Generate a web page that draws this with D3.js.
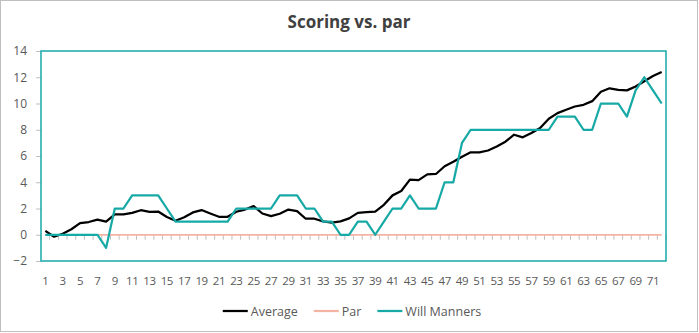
<!DOCTYPE html>
<html>
<head>
<meta charset="utf-8">
<script src="https://cdn.jsdelivr.net/npm/d3@7"></script>
<style>
  html, body { margin: 0; padding: 0; background: #fff; }
  svg { display: block; font-family: "Open Sans", "Noto Sans", sans-serif; }
</style>
</head>
<body>
<svg id="chart" width="699" height="333"></svg>
<script>
// Round numbers 1..72
const rounds = d3.range(1, 73);

// Running average vs. par per round
const averageScores = [
  0.3, -0.15, 0.08, 0.42, 0.88, 0.97, 1.15, 1.0, 1.55, 1.55,
  1.67, 1.87, 1.74, 1.77, 1.35, 1.07, 1.33, 1.7, 1.88, 1.62,
  1.37, 1.37, 1.75, 1.92, 2.18, 1.62, 1.42, 1.6, 1.92, 1.8,
  1.22, 1.22, 1.02, 0.93, 1.02, 1.25, 1.67, 1.72, 1.76, 2.28,
  3.0, 3.33, 4.2, 4.16, 4.6, 4.63, 5.22, 5.56, 5.95, 6.28,
  6.28, 6.42, 6.73, 7.09, 7.62, 7.42, 7.75, 8.13, 8.84, 9.27,
  9.52, 9.77, 9.9, 10.18, 10.9, 11.16, 11.04, 11.0, 11.3, 11.7,
  12.1, 12.4
];

// Par reference line
const parScores = rounds.map(() => 0);

// Will Manners, strokes vs. par per round
const willScores = [
  0, 0, 0, 0, 0, 0, 0, -1, 2, 2,
  3, 3, 3, 3, 2, 1, 1, 1, 1, 1,
  1, 1, 2, 2, 2, 2, 2, 3, 3, 3,
  2, 2, 1, 1, 0, 0, 1, 1, 0, 1,
  2, 2, 3, 2, 2, 2, 4, 4, 7, 8,
  8, 8, 8, 8, 8, 8, 8, 8, 8, 9,
  9, 9, 8, 8, 10, 10, 10, 9, 11, 12,
  11, 10
];

const yTicks = [-2, 0, 2, 4, 6, 8, 10, 12, 14];
const xTickLabels = rounds.filter(r => r % 2 === 1);

const series = [
  { name: "Average", values: averageScores, color: "#000000" },
  { name: "Par", values: parScores, color: "#F4B4A4" },
  { name: "Will Manners", values: willScores, color: "#17A9A6" }
];

const svg = d3.select("#chart");
const W = 699, H = 333;
const plot = { left: 41, right: 666, top: 51, bottom: 261 };

// Outer chart frame
svg.append("rect")
  .attr("x", 0.5).attr("y", 0.5)
  .attr("width", W - 2).attr("height", H - 2)
  .attr("fill", "#fff").attr("stroke", "#BFBFBF").attr("stroke-width", 1);

// Title
svg.append("text")
  .attr("x", 349).attr("y", 28)
  .attr("text-anchor", "middle")
  .attr("font-size", "17px").attr("font-weight", "bold")
  .attr("fill", "#404040")
  .text("Scoring vs. par");

const x = d3.scaleBand().domain(rounds).range([plot.left, plot.right]).padding(0);
const cx = r => x(r) + x.bandwidth() / 2;
const y = d3.scaleLinear().domain([-2, 14]).range([plot.bottom, plot.top]);

// Y axis: ticks and labels
const yAxis = d3.axisLeft(y).tickValues(yTicks).tickSize(5).tickPadding(9);
const yg = svg.append("g").attr("transform", `translate(${plot.left},0)`).call(yAxis);
yg.select(".domain").remove();
yg.selectAll(".tick line").attr("stroke", "#BFBFBF");
yg.selectAll(".tick text")
  .attr("font-size", "12px").attr("fill", "#595959")
  .attr("font-family", "\"Open Sans\", sans-serif");

// X axis at zero: tick marks on category boundaries
const boundaries = d3.range(0, rounds.length + 1).map(i => plot.left + i * x.bandwidth());
svg.append("g").selectAll("line").data(boundaries).join("line")
  .attr("x1", d => d).attr("x2", d => d)
  .attr("y1", y(0)).attr("y2", y(0) + 5)
  .attr("stroke", "#BFBFBF").attr("stroke-width", 1);

// X labels on odd rounds
svg.append("g").selectAll("text").data(xTickLabels).join("text")
  .attr("x", d => cx(d)).attr("y", 285)
  .attr("text-anchor", "middle")
  .attr("font-size", "11.5px").attr("fill", "#595959")
  .attr("letter-spacing", "-0.4px")
  .text(d => d);

// Plot area border
svg.append("rect")
  .attr("x", plot.left).attr("y", plot.top)
  .attr("width", plot.right - plot.left).attr("height", plot.bottom - plot.top)
  .attr("fill", "none").attr("stroke", "#17A9A6").attr("stroke-width", 1.5);

// Series lines
const line = d3.line()
  .x((d, i) => cx(rounds[i]))
  .y(d => y(d));

// Draw order: Par underneath, then Average, then Will Manners
[series[1], series[0], series[2]].forEach(s => {
  svg.append("path")
    .datum(s.values)
    .attr("d", line)
    .attr("fill", "none")
    .attr("stroke", s.color)
    .attr("stroke-width", s.name === "Par" ? 1.75 : 2.25)
    .attr("stroke-linejoin", "round");
});

// Legend
const legend = svg.append("g");
let lx = 0;
series.forEach(s => {
  const g = legend.append("g").attr("transform", `translate(${lx},0)`);
  g.append("line")
    .attr("x1", 0).attr("x2", 25).attr("y1", 0).attr("y2", 0)
    .attr("stroke", s.color).attr("stroke-width", 2.25);
  const t = g.append("text")
    .attr("x", 28).attr("y", 4.5)
    .attr("font-size", "12.5px").attr("fill", "#595959")
    .text(s.name);
  lx += 28 + t.node().getComputedTextLength() + 16;
});
lx -= 16;
legend.attr("transform", `translate(${352 - lx / 2},311)`);
</script>
</body>
</html>
